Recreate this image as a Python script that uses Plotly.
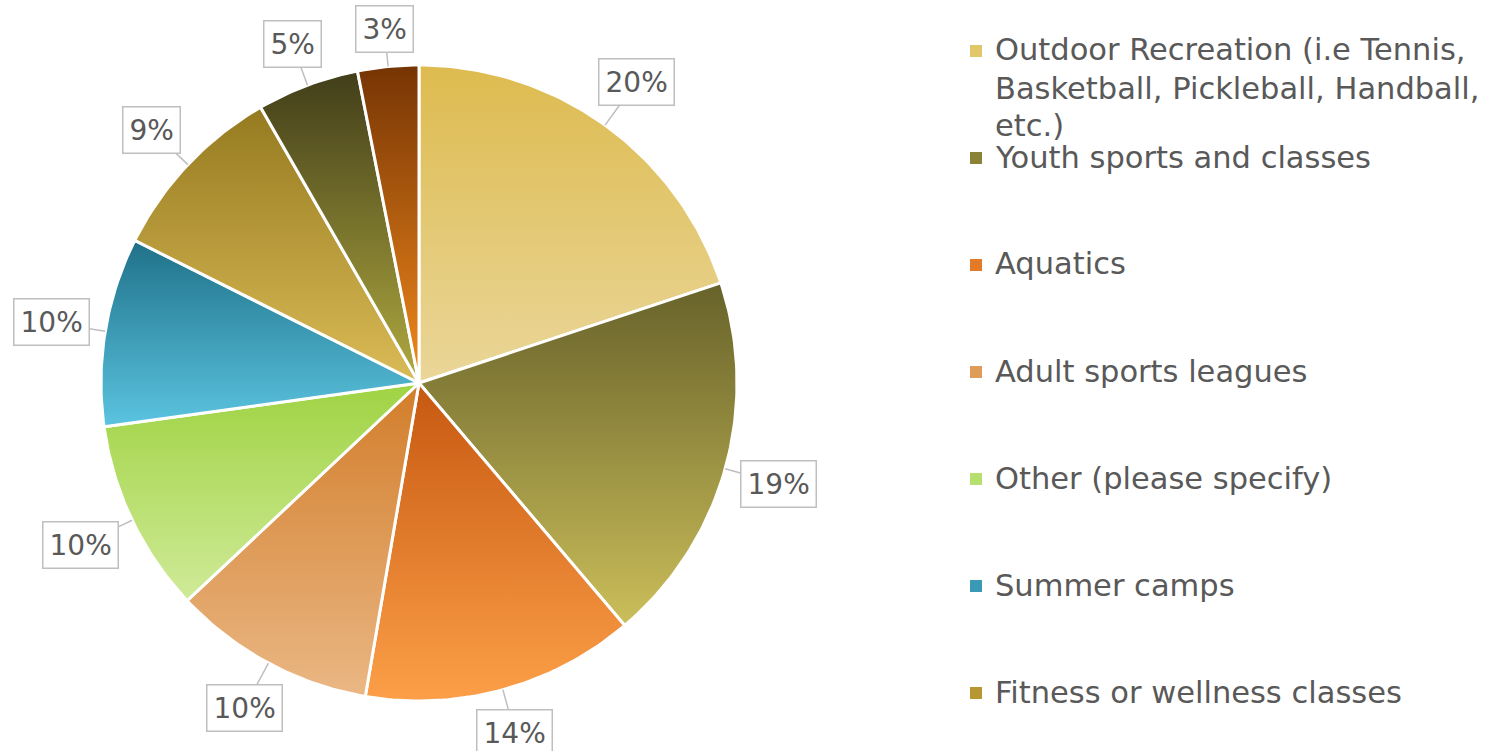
import math
import textwrap
import plotly.graph_objects as go

# ---------------- data ----------------
categories = [
    "Outdoor Recreation (i.e Tennis, Basketball, Pickleball, Handball, etc.)",
    "Youth sports and classes",
    "Aquatics",
    "Adult sports leagues",
    "Other (please specify)",
    "Summer camps",
    "Fitness or wellness classes",
    "Category 8 (legend entry cut off)",
    "Category 9 (legend entry cut off)",
]
values = [19.9, 18.9, 13.9, 10.3, 9.8, 9.6, 9.3, 5.2, 3.1]
legend_visible = 7  # only the first 7 legend entries fit in the picture

# gradient colours (top, bottom) per slice
top_colors = ["#DDBB4F", "#67622A", "#C65810", "#D27D2A", "#9FD343",
              "#1F7189", "#967A20", "#413D19", "#763404"]
bottom_colors = ["#EAD699", "#CBBE5A", "#FC9F48", "#EAB784", "#D0EA98",
                 "#5BC4E0", "#DABB56", "#B0AA40", "#F28A1C"]
legend_colors = ["#E2C66A", "#8A8237", "#E27A28", "#DF9C58", "#B8DE6E",
                 "#3A9AB6", "#B89633", "#6E6A2A", "#B45E10"]

# ---------------- layout constants ----------------
W, H = 1496, 751
CX, CY, RPX = 419, 383, 318  # pie centre / radius in figure pixels
FONT = "DejaVu Sans"
TEXT_COLOR = "#595959"
LBL_SIZE = 28
LEG_SIZE = 30.5


def px(x):
    return x / W


def py(y):
    return 1 - y / H


fig = go.Figure()

total = sum(values)
cum = 0.0
annotations = []
for i, (lab, v) in enumerate(zip(categories, values)):
    a0 = cum / total * 2 * math.pi
    cum += v
    a1 = cum / total * 2 * math.pi
    n = max(8, int((a1 - a0) / (2 * math.pi) * 360))
    xs, ys = [0.0], [0.0]
    for k in range(n + 1):
        t = a0 + (a1 - a0) * k / n
        xs.append(math.sin(t))
        ys.append(math.cos(t))
    xs.append(0.0)
    ys.append(0.0)
    fig.add_trace(go.Scatter(
        x=xs, y=ys, mode="lines", fill="toself",
        fillgradient=dict(type="vertical",
                          colorscale=[[0, bottom_colors[i]], [1, top_colors[i]]]),
        line=dict(color="white", width=3),
        name=lab, showlegend=False, hoverinfo="skip",
    ))
    mid = (a0 + a1) / 2
    txt = f"{round(v / total * 100)}%"
    hw = (len(txt) - 1) * 0.636 * LBL_SIZE / 2 + 0.95 * LBL_SIZE / 2 + 8
    hh = 23
    dist = (RPX + 12 + hw * abs(math.sin(mid)) + hh * abs(math.cos(mid))) / RPX
    annotations.append(dict(
        x=math.sin(mid), y=math.cos(mid), xref="x", yref="y",
        ax=dist * math.sin(mid), ay=dist * math.cos(mid),
        axref="x", ayref="y",
        text=txt,
        showarrow=True, arrowhead=0, arrowwidth=1.5, arrowcolor="#BFBFBF",
        standoff=0,
        font=dict(family=FONT, size=LBL_SIZE, color=TEXT_COLOR),
        bgcolor="white", bordercolor="#BFBFBF", borderwidth=1.5, borderpad=6,
    ))

# ---------------- manual legend ----------------
shapes = []
LEG_X_TEXT = 993
LEG_X_BOX = 970
LEG_Y0 = 50
LEG_STEP = 107
LINE_STEP = 38
BOX = 12
for i in range(legend_visible):
    yc = LEG_Y0 + i * LEG_STEP
    lines = textwrap.wrap(categories[i], 33)
    for j, line in enumerate(lines):
        annotations.append(dict(
            x=px(LEG_X_TEXT), y=py(yc + j * LINE_STEP), xref="paper", yref="paper",
            xanchor="left", yanchor="middle", align="left", showarrow=False,
            text=line,
            font=dict(family=FONT, size=LEG_SIZE, color=TEXT_COLOR),
        ))
    shapes.append(dict(
        type="rect", xref="paper", yref="paper",
        x0=px(LEG_X_BOX), x1=px(LEG_X_BOX + BOX),
        y0=py(yc + 7), y1=py(yc - 5),
        fillcolor=legend_colors[i], line=dict(width=0),
    ))

xr = [-CX / RPX, (W - CX) / RPX]
yr = [-(H - CY) / RPX, CY / RPX]
fig.update_layout(
    width=W, height=H,
    margin=dict(l=0, r=0, t=0, b=0),
    paper_bgcolor="white", plot_bgcolor="white",
    xaxis=dict(range=xr, visible=False, fixedrange=True),
    yaxis=dict(range=yr, visible=False, fixedrange=True),
    annotations=annotations, shapes=shapes,
    showlegend=False,
)

fig.write_html(
    "out.html",
    config={"displayModeBar": False},
    post_script="document.body.style.margin='0px';document.body.style.overflow='hidden';",
)
